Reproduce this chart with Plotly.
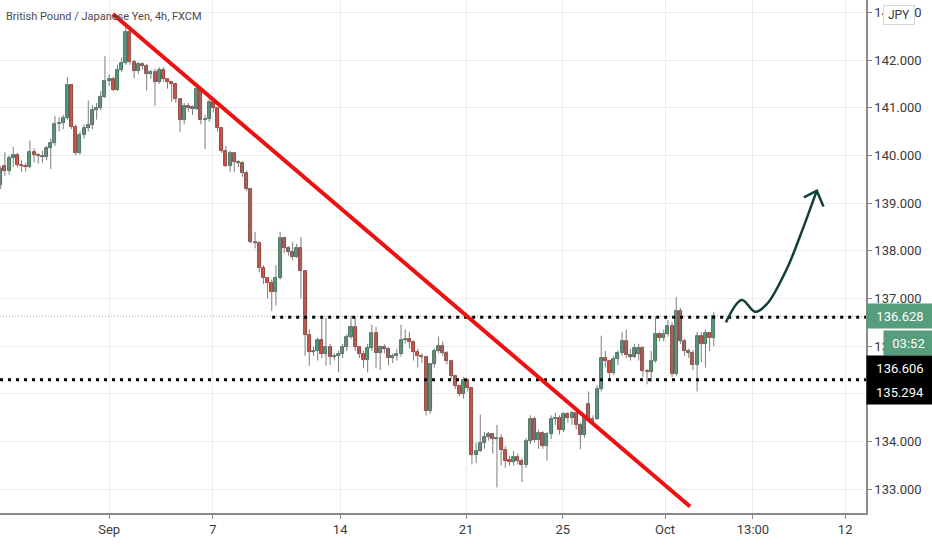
"""
GBP/JPY 4h (FXCM) - reproduccion del grafico de velas con linea de tendencia,
niveles punteados y flecha de proyeccion.
"""

import plotly.graph_objects as go

# ---------------- datos (velas 4h) ----------------
velas = [
    # open,   high,   low,    close
    (139.38, 139.78, 139.30, 139.71), (139.78, 140.07, 139.57, 139.68),
    (139.68, 140.00, 139.60, 139.94), (139.94, 140.18, 139.76, 140.00),
    (140.00, 140.05, 139.75, 139.80), (139.80, 139.90, 139.66, 139.78),
    (139.78, 139.85, 139.66, 139.75), (139.75, 140.31, 139.73, 140.08),
    (140.08, 140.15, 139.85, 140.00), (140.00, 140.05, 139.83, 139.98),
    (139.98, 140.10, 139.85, 139.97), (139.97, 140.20, 139.90, 140.15),
    (140.15, 140.35, 139.71, 140.25), (140.25, 140.83, 140.20, 140.66),
    (140.66, 140.80, 140.50, 140.68), (140.68, 140.85, 140.55, 140.78),
    (140.78, 141.64, 140.75, 141.47), (141.47, 141.50, 140.55, 140.60),
    (140.60, 140.65, 140.00, 140.05), (140.05, 140.50, 140.02, 140.42),
    (140.42, 140.65, 140.35, 140.58), (140.58, 141.15, 140.50, 140.64),
    (140.64, 141.05, 140.55, 140.96), (140.96, 141.10, 140.75, 141.00),
    (141.00, 141.35, 140.95, 141.23), (141.23, 142.08, 141.20, 141.56),
    (141.56, 141.70, 141.45, 141.60), (141.60, 141.65, 141.35, 141.38),
    (141.38, 141.90, 141.35, 141.80), (141.80, 142.05, 141.75, 141.94),
    (141.94, 142.69, 141.90, 142.58), (142.58, 142.65, 141.90, 141.95),
    (141.95, 142.00, 141.62, 141.78), (141.78, 141.96, 141.70, 141.92),
    (141.92, 141.95, 141.80, 141.88), (141.88, 141.92, 141.36, 141.70),
    (141.70, 141.80, 141.60, 141.74), (141.74, 141.82, 141.04, 141.53),
    (141.53, 141.85, 141.50, 141.80), (141.80, 141.85, 141.55, 141.60),
    (141.60, 141.62, 141.40, 141.53), (141.53, 141.56, 141.12, 141.50),
    (141.50, 141.52, 141.10, 141.18), (141.18, 141.20, 140.49, 140.74),
    (140.74, 141.10, 140.65, 141.04), (141.04, 141.10, 140.92, 141.00),
    (141.00, 141.05, 140.85, 140.98), (140.98, 141.45, 140.95, 141.39),
    (141.39, 141.42, 140.65, 140.74), (140.74, 140.85, 140.13, 140.76),
    (140.76, 141.20, 140.70, 141.13), (141.12, 141.18, 140.90, 140.99),
    (140.99, 141.02, 140.50, 140.57), (140.57, 140.60, 140.05, 140.09),
    (140.09, 140.20, 139.75, 139.78), (139.78, 140.10, 139.65, 140.05),
    (140.05, 140.07, 139.65, 139.87), (139.87, 139.90, 139.75, 139.84),
    (139.84, 139.88, 139.55, 139.63), (139.63, 139.68, 139.25, 139.30),
    (139.30, 139.32, 138.15, 138.19), (138.19, 138.40, 138.05, 138.17),
    (138.17, 138.20, 137.55, 137.63), (137.63, 137.70, 137.30, 137.42),
    (137.42, 137.45, 137.00, 137.33), (137.33, 137.40, 136.74, 137.14),
    (137.14, 137.70, 136.85, 137.43), (137.43, 138.40, 137.40, 138.27),
    (138.27, 138.30, 137.95, 138.06), (138.06, 138.10, 137.90, 137.98),
    (137.98, 138.18, 137.80, 137.88), (137.88, 138.15, 137.85, 138.06),
    (138.06, 138.29, 137.00, 137.57), (137.57, 137.60, 135.80, 136.23),
    (136.23, 136.35, 135.59, 135.88), (135.88, 136.00, 135.80, 135.90),
    (135.90, 136.18, 135.70, 136.12), (136.12, 136.64, 135.75, 135.83),
    (135.83, 136.60, 135.59, 135.99), (135.99, 136.05, 135.60, 135.78),
    (135.78, 135.85, 135.70, 135.80), (135.80, 135.90, 135.45, 135.83),
    (135.83, 136.05, 135.75, 135.98), (135.98, 136.25, 135.90, 136.19),
    (136.19, 136.64, 136.15, 136.40), (136.40, 136.62, 135.90, 135.98),
    (135.98, 136.00, 135.75, 135.84), (135.84, 135.90, 135.55, 135.72),
    (135.72, 136.05, 135.45, 135.96), (135.96, 136.45, 135.90, 136.27),
    (136.27, 136.40, 135.55, 135.86), (135.86, 136.02, 135.50, 135.98),
    (135.98, 136.05, 135.85, 135.94), (135.94, 135.98, 135.60, 135.75),
    (135.75, 135.85, 135.65, 135.80), (135.80, 135.95, 135.70, 135.83),
    (135.83, 136.45, 135.78, 136.13), (136.13, 136.35, 136.05, 136.15),
    (136.15, 136.30, 135.95, 136.08), (136.08, 136.12, 135.70, 135.88),
    (135.88, 135.95, 135.55, 135.80), (135.80, 135.85, 135.65, 135.77),
    (135.77, 135.80, 134.55, 134.64), (134.64, 135.65, 134.58, 135.62),
    (135.62, 135.95, 135.55, 135.90), (135.90, 136.20, 135.85, 136.00),
    (136.00, 136.10, 135.80, 135.86), (135.86, 135.90, 135.62, 135.69),
    (135.69, 135.72, 135.30, 135.37), (135.37, 135.40, 135.10, 135.17),
    (135.17, 135.20, 134.95, 134.99), (134.99, 135.35, 134.90, 135.30),
    (135.30, 135.32, 135.05, 135.13), (135.13, 135.15, 133.52, 133.71),
    (133.71, 133.98, 133.55, 133.80), (133.80, 134.57, 133.78, 133.97),
    (133.97, 134.20, 133.85, 134.10), (134.10, 134.20, 134.02, 134.15),
    (134.15, 134.18, 133.75, 134.05), (134.05, 134.35, 133.04, 134.08),
    (134.08, 134.15, 133.50, 133.83), (133.83, 133.90, 133.45, 133.60),
    (133.60, 133.70, 133.50, 133.58), (133.58, 133.80, 133.50, 133.67),
    (133.67, 133.75, 133.52, 133.60), (133.60, 133.65, 133.15, 133.50),
    (133.50, 134.08, 133.45, 134.01), (134.01, 134.55, 133.95, 134.48),
    (134.48, 134.52, 133.98, 134.04), (134.04, 134.25, 133.85, 134.17),
    (134.17, 134.22, 133.85, 133.90), (133.90, 134.20, 133.60, 134.15),
    (134.15, 134.55, 134.05, 134.48), (134.48, 134.60, 134.35, 134.50),
    (134.50, 134.55, 134.15, 134.25), (134.25, 134.62, 134.20, 134.57),
    (134.57, 134.62, 134.40, 134.50), (134.50, 134.65, 134.35, 134.59),
    (134.59, 134.62, 134.25, 134.35), (134.35, 134.40, 133.84, 134.13),
    (134.13, 134.55, 134.08, 134.51), (134.79, 135.05, 134.40, 134.47),
    (134.42, 134.55, 134.38, 134.47), (134.47, 135.18, 134.45, 135.10),
    (135.10, 136.22, 135.05, 135.76), (135.76, 135.90, 135.55, 135.68),
    (135.68, 135.72, 135.30, 135.44), (135.44, 135.80, 135.40, 135.73),
    (135.73, 135.92, 135.60, 135.86), (135.86, 136.30, 135.80, 136.11),
    (136.11, 136.35, 135.75, 135.82), (135.82, 135.95, 135.70, 135.78),
    (135.78, 136.05, 135.75, 135.97), (135.84, 136.05, 135.70, 135.96),
    (135.96, 136.00, 135.35, 135.47), (135.47, 135.52, 135.20, 135.45),
    (135.45, 135.90, 135.25, 135.70), (135.70, 136.62, 135.65, 136.25),
    (136.25, 136.30, 136.10, 136.17), (136.17, 136.35, 136.10, 136.25),
    (136.25, 136.55, 136.20, 136.43), (136.43, 136.50, 135.35, 135.41),
    (135.41, 137.03, 135.38, 136.74), (136.74, 136.80, 136.05, 136.10),
    (136.10, 136.15, 135.80, 135.89), (135.89, 135.95, 135.75, 135.86),
    (135.86, 135.92, 135.50, 135.60), (135.60, 136.30, 135.05, 136.22),
    (136.22, 136.30, 135.66, 136.04), (136.04, 136.35, 135.55, 136.27),
    (136.27, 136.30, 135.90, 136.17), (136.17, 136.72, 136.00, 136.628),
]

apertura = [v[0] for v in velas]
maximo   = [v[1] for v in velas]
minimo   = [v[2] for v in velas]
cierre   = [v[3] for v in velas]
barras   = list(range(len(velas)))

# etiquetas del eje temporal (posicion en barras)
tick_pos   = [26.0, 50.9, 81.4, 111.6, 134.8, 159.3, 180.4, 202.5]
tick_texto = ["Sep", "7", "14", "21", "25", "Oct", "13:00", "12"]
precios_eje = [133, 134, 135, 136, 137, 138, 139, 140, 141, 142, 143]
# 135.000 queda completamente tapado por las etiquetas de nivel
precios_texto = ["133.000", "134.000", "", "136.000", "137.000", "138.000",
                 "139.000", "140.000", "141.000", "142.000", "143.000"]

# dibujos sobre el grafico
tendencia_x = [26.9, 165.3]
tendencia_y = [142.965, 132.64]
nivel_sup   = 136.606
nivel_inf   = 135.294
nivel_sup_desde = 65.1
ultimo_precio = 136.628
flecha_x = [173.9, 177.7, 180.9, 183.7, 188.5, 191.7, 195.7]
flecha_y = [136.50, 136.97, 136.72, 136.88, 137.62, 138.31, 139.26]
punta_x  = [192.6, 195.7, 197.3]
punta_y  = [139.12, 139.26, 138.93]

X_RANGO = [-0.17, 207.5]
Y_RANGO = [132.503, 143.258]

VERDE, VERDE_BORDE = "#559d7c", "#2c5a44"
ROJO, ROJO_BORDE   = "#cc4c40", "#7c2a21"
TEXTO = "#3a3a3a"
GRID  = "#ededed"

# ---------------- figura ----------------
fig = go.Figure()

# mechas
mx, my = [], []
for i in barras:
    mx += [i, i, None]
    my += [minimo[i], maximo[i], None]
fig.add_trace(go.Scatter(x=mx, y=my, mode="lines",
                         line=dict(color="#7d7d7d", width=1),
                         hoverinfo="skip", showlegend=False))

# cuerpos
sube = [c >= o for o, c in zip(apertura, cierre)]
base = [min(o, c) for o, c in zip(apertura, cierre)]
alto = [max(abs(c - o), 0.025) for o, c in zip(apertura, cierre)]
fig.add_trace(go.Bar(
    x=barras, y=alto, base=base, width=0.72,
    marker=dict(color=[VERDE if s else ROJO for s in sube],
                line=dict(color=[VERDE_BORDE if s else ROJO_BORDE for s in sube], width=0.8)),
    customdata=list(zip(apertura, maximo, minimo, cierre)),
    hovertemplate="O %{customdata[0]:.3f}<br>H %{customdata[1]:.3f}<br>"
                  "L %{customdata[2]:.3f}<br>C %{customdata[3]:.3f}<extra></extra>",
    showlegend=False,
))

# linea de ultimo precio (tenue)
fig.add_trace(go.Scatter(x=X_RANGO, y=[ultimo_precio] * 2, mode="lines",
                         line=dict(color="#5a9e80", width=1, dash="1px,2px"),
                         opacity=0.7, hoverinfo="skip", showlegend=False))

# niveles punteados
fig.add_trace(go.Scatter(x=[nivel_sup_desde, X_RANGO[1]], y=[nivel_sup] * 2, mode="lines",
                         line=dict(color="black", width=3, dash="3px,5px"),
                         hoverinfo="skip", showlegend=False))
fig.add_trace(go.Scatter(x=X_RANGO, y=[nivel_inf] * 2, mode="lines",
                         line=dict(color="black", width=3, dash="3px,5px"),
                         hoverinfo="skip", showlegend=False))

# linea de tendencia
fig.add_trace(go.Scatter(x=tendencia_x, y=tendencia_y, mode="lines",
                         line=dict(color="#ee1111", width=4),
                         hoverinfo="skip", showlegend=False))

# flecha de proyeccion
fig.add_trace(go.Scatter(x=flecha_x, y=flecha_y, mode="lines",
                         line=dict(color="#113f3a", width=2.5, shape="spline", smoothing=1.0),
                         hoverinfo="skip", showlegend=False))
fig.add_trace(go.Scatter(x=punta_x, y=punta_y, mode="lines",
                         line=dict(color="#113f3a", width=2.5),
                         hoverinfo="skip", showlegend=False))

# etiquetas en el eje de precios
def etiqueta(texto, y, color, shift=0, ancho=66):
    fig.add_annotation(xref="paper", x=1, xanchor="left", xshift=shift,
                       yref="y", y=y, yanchor="middle",
                       text=texto, showarrow=False, align="center",
                       width=ancho, height=24, borderpad=0,
                       bgcolor=color, font=dict(family="Roboto", size=13, color="white"))

etiqueta(f"{ultimo_precio:.3f}", ultimo_precio, "#559d7c")
etiqueta("03:52", 136.067, "#559d7c", shift=17, ancho=49)
etiqueta(f"{nivel_sup:.3f}", 135.55, "#000000")
etiqueta(f"{nivel_inf:.3f}", 135.05, "#000000")

fig.add_annotation(xref="paper", x=1, xanchor="left", xshift=17,
                   yref="paper", y=1, yanchor="top", yshift=-5,
                   text="JPY", showarrow=False, width=28, height=16,
                   bgcolor="white", bordercolor="#d6d6d6", borderwidth=1, borderpad=1,
                   font=dict(family="Roboto", size=12, color=TEXTO))

fig.add_annotation(xref="paper", x=0, xanchor="left", xshift=4,
                   yref="paper", y=1, yanchor="top", yshift=-8,
                   text="British Pound / Japanese Yen, 4h, FXCM", showarrow=False,
                   font=dict(family="Roboto", size=11, color="#4a4a4a"))

fig.update_layout(
    width=932, height=550,
    margin=dict(l=0, r=66, t=0, b=37),
    plot_bgcolor="white", paper_bgcolor="white",
    showlegend=False, bargap=0,
    font=dict(family="Roboto", size=13, color=TEXTO),
)
fig.update_xaxes(
    range=X_RANGO, tickmode="array", tickvals=tick_pos, ticktext=tick_texto,
    showgrid=True, gridcolor=GRID, zeroline=False,
    showline=True, linecolor="#8a8a8a", linewidth=1.5,
    ticks="outside", ticklen=4, tickcolor="#8a8a8a",
    tickfont=dict(size=13, color=TEXTO), fixedrange=True,
)
fig.update_yaxes(
    range=Y_RANGO, side="right", tickmode="array", tickvals=precios_eje,
    ticktext=precios_texto,
    showgrid=True, gridcolor=GRID, zeroline=False,
    showline=True, linecolor="#8a8a8a", linewidth=1.5,
    ticks="outside", ticklen=4, tickcolor="#8a8a8a",
    tickfont=dict(size=13, color=TEXTO), fixedrange=True,
)

# sin barra de herramientas y sin margen del body, para ocupar la ventana completa
fig.write_html("out.html", config={"displayModeBar": False},
               post_script="document.body.style.margin='0';document.body.style.overflow='hidden';")
